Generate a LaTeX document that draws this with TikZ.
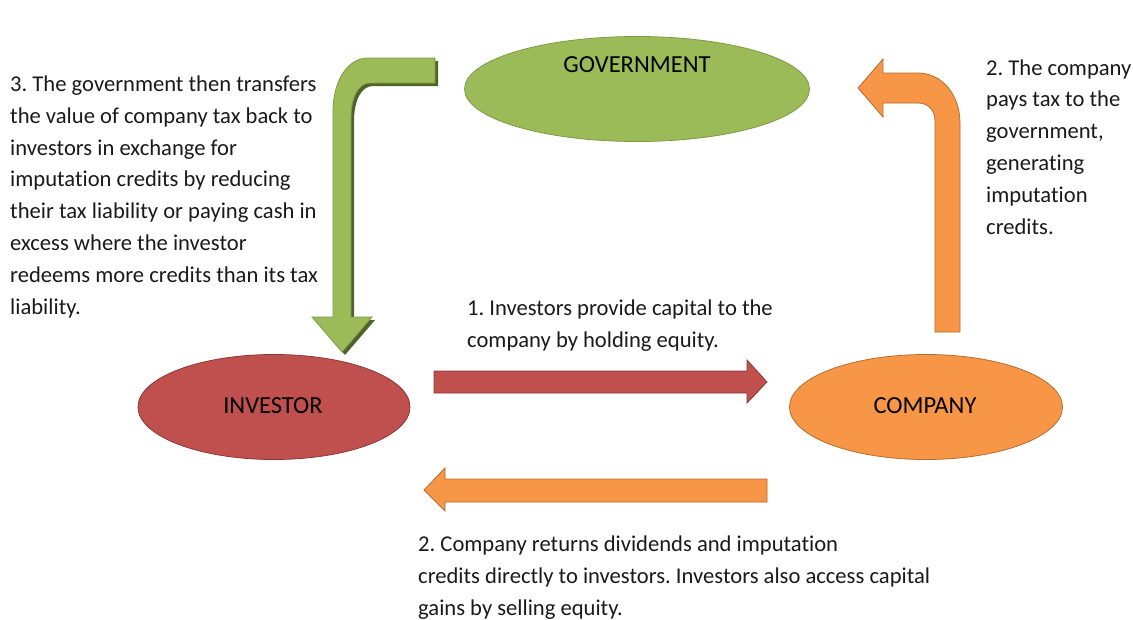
\documentclass[tikz,border=0pt]{standalone}
\usepackage{fontspec}
\setmainfont{Carlito}[Ligatures={NoCommon,NoRare,NoContextual}]
\usetikzlibrary{shapes.geometric}
\frenchspacing
\definecolor{govfill}{HTML}{9BBB59}
\definecolor{govline}{HTML}{7E9A45}
\definecolor{govshadow}{HTML}{4F6228}
\definecolor{invfill}{HTML}{C0504D}
\definecolor{invline}{HTML}{8C3836}
\definecolor{comfill}{HTML}{F79646}
\definecolor{comline}{HTML}{B66D31}
\definecolor{txt}{HTML}{1A1A1A}
\tikzset{
  party/.style={ellipse, minimum width=#1, minimum height=105, inner sep=0pt, line width=0.8pt},
  body/.style={anchor=base west, align=left, inner sep=0pt, text=txt, font=\fontsize{22.6}{31.8}\selectfont\frenchspacing},
  lbl/.style={anchor=base, inner sep=0pt, text=black, font=\fontsize{24.5}{28}\selectfont},
  blockarrow/.style={line width=0.8pt, line join=miter},
}
\begin{document}
\begin{tikzpicture}[x=1pt,y=-1pt]
\useasboundingbox (0,0) rectangle (1133,619);
% parties
\node[party=345, fill=govfill, draw=govline] (gov) at (637,89) {};
\node[party=272, fill=invfill, draw=invline] (inv) at (274,407) {};
\node[party=273, fill=comfill, draw=comline] (com) at (926,407) {};
\node[lbl] (govl) at (637,72) {GOVERNMENT};
\node[lbl] (invl) at (273,413) {INVESTOR};
\node[lbl] (coml) at (925,413) {COMPANY};
% red arrow investor -> company
\coordinate (r1) at (434,382);
\coordinate (r2) at (767,382);
\draw[blockarrow, fill=invfill, draw=invline]
  (r1) ++(0,-11) -- (747,371) -- (747,360) -- (r2) -- (747,403) -- (747,393) -- (434,393) -- cycle;
% orange arrow company -> investor
\coordinate (o1) at (767,490);
\coordinate (o2) at (424,490);
\draw[blockarrow, fill=comfill, draw=comline]
  (o1) ++(0,-11) -- (445,479) -- (445,468) -- (o2) -- (445,511) -- (445,502) -- (767,502) -- cycle;
% orange bent arrow company -> government
\draw[blockarrow, fill=comfill, draw=comline]
  (935,332) -- (935,121) .. controls (935,110) and (928,103) .. (918,103)
  -- (883,103) -- (883,117) -- (858,88) -- (883,59) -- (883,73) -- (918,73)
  .. controls (942,73) and (960,95) .. (960,123) -- (960,332) -- cycle;
% green bent arrow government -> investor (shadow then body)
\begin{scope}[shift={(3,3)}]
\fill[govshadow]
  (435,58) -- (368,58) .. controls (348,58) and (333,80) .. (333,112)
  -- (333,317) -- (312,317) -- (342,352) -- (372,317) -- (351,317)
  -- (351,118) .. controls (351,98) and (358,83) .. (370,83) -- (435,83) -- cycle;
\end{scope}
\draw[blockarrow, fill=govfill, draw=govline]
  (435,58) -- (368,58) .. controls (348,58) and (333,80) .. (333,112)
  -- (333,317) -- (312,317) -- (342,352) -- (372,317) -- (351,317)
  -- (351,118) .. controls (351,98) and (358,83) .. (370,83) -- (435,83) -- cycle;
% texts (base anchor = baseline of the last line)
\node[body] (t3) at (10,314) {3. The government then transfers\\the value of company tax back to\\investors in exchange for\\imputation credits by reducing\\their tax liability or paying cash in\\excess where the investor\\redeems more credits than its tax\\liability.};
\node[body] (t2r) at (986,234) {2. The company\\pays tax to the\\government,\\generating\\imputation\\credits.};
\node[body] (t1) at (467,347) {1. Investors provide capital to the\\company by holding equity.};
\node[body] (t2b) at (418,615) {2. Company returns dividends and imputation\\credits directly to investors. Investors also access capital\\gains by selling equity.};
\end{tikzpicture}
\end{document}
